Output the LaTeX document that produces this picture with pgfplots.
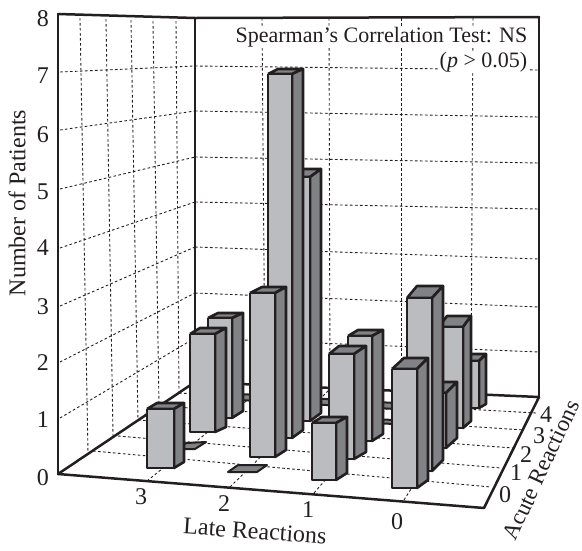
\documentclass[border=0pt]{standalone}
\usepackage{pgfplots}
\pgfplotsset{compat=1.18}
\usepackage{fontspec}
\setmainfont{Liberation Serif}
\definecolor{inkk}{HTML}{231F20}
\definecolor{lightf}{HTML}{BBBCC0}
\definecolor{darkf}{HTML}{808285}
\newcommand{\grid}[4]{\addplot[inkk,line width=0.9pt,dash pattern=on 2.6pt off 2.4pt] coordinates {(#1,#2) (#3,#4)};}
\newcommand{\frameline}[4]{\addplot[inkk,line width=2.5pt,line cap=round] coordinates {(#1,#2) (#3,#4)};}
\newcommand{\lab}[3]{\node[font=\fontsize{24}{24}\selectfont,text=inkk,inner sep=0pt] at (axis cs:#1,#2) {#3};}
% front left, front right, front top, front bottom, back left, back right, back top, back bottom
\newcommand{\barbox}[8]{%
\addplot[draw=inkk,line width=2.6pt,fill=darkf,line join=round] coordinates {(#1,#3) (#5,#7) (#6,#7) (#2,#3) (#1,#3)};
\addplot[draw=inkk,line width=2.6pt,fill=darkf,line join=round] coordinates {(#2,#3) (#6,#7) (#6,#8) (#2,#4) (#2,#3)};
\addplot[draw=inkk,line width=2.6pt,fill=lightf,line join=round] coordinates {(#1,#3) (#2,#3) (#2,#4) (#1,#4) (#1,#3)};}
\newcommand{\flatbar}[8]{%
\addplot[draw=inkk,line width=2pt,fill=darkf,line join=round] coordinates {(#1,#2) (#3,#4) (#5,#6) (#7,#8) (#1,#2)};}
\begin{document}
\begin{tikzpicture}
\begin{axis}[scale only axis,width=582pt,height=550pt,xmin=0,xmax=582,ymin=0,ymax=550,
  y dir=reverse,hide axis,clip=false]
\addplot[draw=none] coordinates {(0,0) (582,550)};
% left wall grid
\grid{60}{418}{195}{338}\grid{60}{362}{195}{293}\grid{60}{306}{195}{247}\grid{60}{248}{195}{202}
\grid{60}{189}{195}{157}\grid{60}{130}{195}{111}\grid{60}{72}{195}{66}
\grid{80}{18}{88}{453}\grid{106}{19}{113}{436}\grid{131}{20}{138}{420}\grid{153}{21}{159}{406}\grid{176}{21}{179}{393}
% back wall grid
\grid{195}{338}{539}{352}\grid{195}{293}{539}{307}\grid{195}{247}{539}{259}\grid{195}{202}{539}{209}
\grid{195}{157}{539}{163}\grid{195}{111}{539}{117}\grid{195}{66}{539}{70}
\grid{262}{18}{265}{386}\grid{329}{18}{330}{389}\grid{401}{18}{401}{392}\grid{473}{18}{471}{395}
% floor grid
\grid{93}{451}{491}{487}\grid{118}{436}{501}{468}\grid{138}{420}{513}{448}\grid{160}{406}{524}{430}\grid{179}{393}{536}{413}
\grid{147}{481}{265}{386}\grid{230}{487}{330}{389}\grid{314}{493}{401}{392}\grid{404}{500}{471}{395}
% frame
\frameline{58}{474}{58}{14}\frameline{58}{14}{195}{18}\frameline{195}{18}{539}{17}
\frameline{539}{17}{539}{397}\frameline{195}{18}{195}{382}\frameline{58}{474}{195}{382}
\frameline{195}{382}{539}{397}\frameline{539}{397}{484}{508}\frameline{484}{508}{58}{474}
% flat bars seen between the columns
\flatbar{240}{394}{395}{403}{395}{409}{240}{400}
\flatbar{320}{417}{395}{420}{395}{424}{320}{421}
\flatbar{186}{443}{206}{442}{195}{449}{178}{449}
\flatbar{238}{465}{267}{465}{257}{472}{228}{472}
% columns, back to front
\barbox{208}{232}{318}{418}{218}{243}{313}{411}
\barbox{190}{215}{334}{432}{200}{226}{328}{427}
\barbox{286}{310}{177}{421}{296}{321}{169}{413}
\barbox{268}{292}{74}{438}{278}{303}{69}{430}
\barbox{250}{275}{293}{457}{262}{286}{287}{450}
\barbox{348}{372}{336}{441}{358}{383}{330}{434}
\barbox{329}{354}{354}{459}{339}{366}{346}{452}
\barbox{455}{479}{361}{408}{462}{486}{354}{404}
\barbox{439}{463}{327}{428}{447}{471}{316}{421}
\barbox{422}{446}{393}{448}{433}{457}{382}{438}
\barbox{407}{432}{298}{471}{417}{443}{286}{460}
\barbox{312}{336}{423}{480}{322}{347}{417}{473}
\barbox{392}{417}{369}{488}{404}{428}{358}{480}
\barbox{147}{174}{409}{468}{157}{184}{403}{462}
% y tick labels
\lab{43}{19}{8}\lab{43}{76}{7}\lab{43}{135}{6}\lab{43}{192}{5}\lab{43}{248}{4}
\lab{43}{307}{3}\lab{43}{363}{2}\lab{43}{420}{1}\lab{43}{478}{0}
% x tick labels
\lab{141}{497}{3}\lab{224}{504}{2}\lab{308}{510}{1}\lab{397}{522}{0}
% acute tick labels
\lab{505}{495}{0}\lab{516}{473}{1}\lab{526}{455}{2}\lab{539}{436}{3}\lab{546}{415}{4}
% axis titles
\node[font=\fontsize{24}{24}\selectfont,text=inkk,rotate=90,inner sep=0pt] at (axis cs:17,203) {Number of Patients};
\node[font=\fontsize{24}{24}\selectfont,text=inkk,rotate=-4,inner sep=0pt] at (axis cs:255,531) {Late Reactions};
\node[font=\fontsize{23}{23}\selectfont,text=inkk,rotate=65,inner sep=0pt] at (axis cs:541,470) {Acute Reactions};
% annotation
\node[font=\fontsize{22}{22}\selectfont,text=inkk,fill=white,anchor=east,inner sep=1.5pt] at (axis cs:529,37) {Spearman's Correlation Test: NS};
\node[font=\fontsize{22}{22}\selectfont,text=inkk,fill=white,anchor=east,inner sep=1.5pt] at (axis cs:529,62) {(\textit{p} > 0.05)};
\end{axis}
\pgfresetboundingbox
\path (0,0) rectangle (582pt,550pt);
\end{tikzpicture}
\end{document}
